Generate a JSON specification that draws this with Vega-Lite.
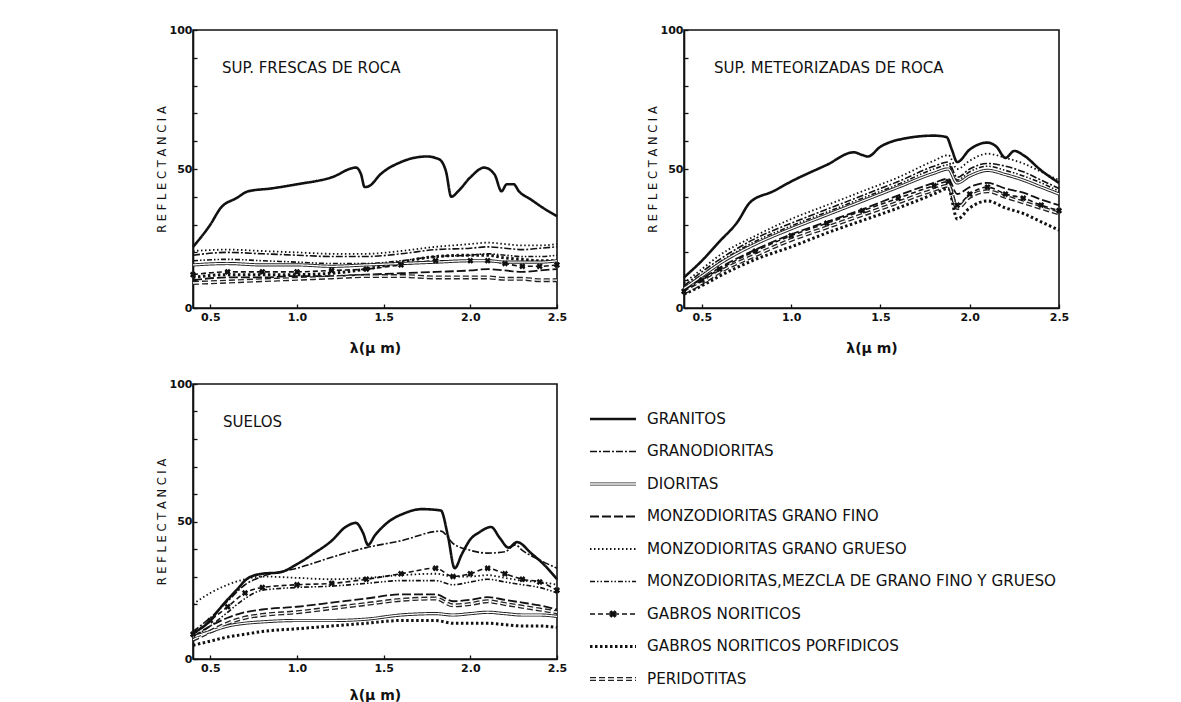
{
  "$schema": "https://vega.github.io/schema/vega-lite/v6.json",
  "padding": {"left": 155, "top": 23, "right": 5, "bottom": 0},
  "background": "white",
  "config": {
    "font": "DejaVu Sans",
    "view": {"stroke": "#111", "strokeWidth": 1.6},
    "title": {"anchor": "start", "frame": "group", "offset": -52, "fontSize": 15, "fontWeight": "normal", "font": "DejaVu Sans", "color": "#111"},
    "axis": {"domainColor": "#111", "domainWidth": 1.6, "tickColor": "#111", "tickWidth": 1.3, "labelColor": "#111", "titleColor": "#111", "labelFont": "DejaVu Sans", "labelFontSize": 11, "labelFontWeight": "bold", "titleFont": "DejaVu Sans", "titleFontSize": 11.5, "titleFontWeight": "normal", "grid": false, "labelOverlap": false}
  },
  "datasets": {
    "d": [
      {"p":1,"s":"GR","x":0.4,"y":22},{"p":1,"s":"GR","x":0.5,"y":30},{"p":1,"s":"GR","x":0.56,"y":36},{"p":1,"s":"GR","x":0.65,"y":39.5},{"p":1,"s":"GR","x":0.72,"y":42},{"p":1,"s":"GR","x":0.85,"y":43},{"p":1,"s":"GR","x":1.0,"y":44.5},{"p":1,"s":"GR","x":1.2,"y":47},{"p":1,"s":"GR","x":1.34,"y":50.5},{"p":1,"s":"GR","x":1.37,"y":48},{"p":1,"s":"GR","x":1.39,"y":43.5},{"p":1,"s":"GR","x":1.42,"y":44},{"p":1,"s":"GR","x":1.48,"y":48},{"p":1,"s":"GR","x":1.6,"y":52.5},{"p":1,"s":"GR","x":1.75,"y":54.5},{"p":1,"s":"GR","x":1.82,"y":53.5},{"p":1,"s":"GR","x":1.86,"y":49},{"p":1,"s":"GR","x":1.89,"y":40},{"p":1,"s":"GR","x":1.93,"y":42},{"p":1,"s":"GR","x":2.0,"y":47},{"p":1,"s":"GR","x":2.08,"y":50.5},{"p":1,"s":"GR","x":2.14,"y":48},{"p":1,"s":"GR","x":2.18,"y":42},{"p":1,"s":"GR","x":2.21,"y":44.5},{"p":1,"s":"GR","x":2.25,"y":44.5},{"p":1,"s":"GR","x":2.28,"y":42},{"p":1,"s":"GR","x":2.35,"y":39},{"p":1,"s":"GR","x":2.42,"y":36},{"p":1,"s":"GR","x":2.5,"y":33},
      {"p":1,"s":"GD","x":0.4,"y":19},{"p":1,"s":"GD","x":0.6,"y":20},{"p":1,"s":"GD","x":0.8,"y":19.5},{"p":1,"s":"GD","x":1.0,"y":19},{"p":1,"s":"GD","x":1.2,"y":18.5},{"p":1,"s":"GD","x":1.4,"y":18.5},{"p":1,"s":"GD","x":1.6,"y":19.5},{"p":1,"s":"GD","x":1.8,"y":21},{"p":1,"s":"GD","x":2.0,"y":21.5},{"p":1,"s":"GD","x":2.1,"y":22},{"p":1,"s":"GD","x":2.2,"y":21.5},{"p":1,"s":"GD","x":2.3,"y":21},{"p":1,"s":"GD","x":2.4,"y":21.5},{"p":1,"s":"GD","x":2.5,"y":22},
      {"p":1,"s":"MG","x":0.4,"y":20.5},{"p":1,"s":"MG","x":0.6,"y":21},{"p":1,"s":"MG","x":0.8,"y":20.5},{"p":1,"s":"MG","x":1.0,"y":20},{"p":1,"s":"MG","x":1.2,"y":19.5},{"p":1,"s":"MG","x":1.4,"y":19.5},{"p":1,"s":"MG","x":1.6,"y":20.5},{"p":1,"s":"MG","x":1.8,"y":22},{"p":1,"s":"MG","x":2.0,"y":23},{"p":1,"s":"MG","x":2.1,"y":23.5},{"p":1,"s":"MG","x":2.2,"y":23},{"p":1,"s":"MG","x":2.3,"y":22.5},{"p":1,"s":"MG","x":2.4,"y":22.5},{"p":1,"s":"MG","x":2.5,"y":23},
      {"p":1,"s":"MM","x":0.4,"y":17},{"p":1,"s":"MM","x":0.6,"y":17.5},{"p":1,"s":"MM","x":0.8,"y":17},{"p":1,"s":"MM","x":1.0,"y":16.5},{"p":1,"s":"MM","x":1.2,"y":16},{"p":1,"s":"MM","x":1.4,"y":16},{"p":1,"s":"MM","x":1.6,"y":17},{"p":1,"s":"MM","x":1.8,"y":18.5},{"p":1,"s":"MM","x":2.0,"y":19},{"p":1,"s":"MM","x":2.1,"y":19.5},{"p":1,"s":"MM","x":2.2,"y":19},{"p":1,"s":"MM","x":2.3,"y":18.5},{"p":1,"s":"MM","x":2.4,"y":18.5},{"p":1,"s":"MM","x":2.5,"y":19},
      {"p":1,"s":"DI","x":0.4,"y":15.5},{"p":1,"s":"DI","x":0.6,"y":16},{"p":1,"s":"DI","x":0.8,"y":15.5},{"p":1,"s":"DI","x":1.0,"y":15.5},{"p":1,"s":"DI","x":1.2,"y":15},{"p":1,"s":"DI","x":1.4,"y":15.5},{"p":1,"s":"DI","x":1.6,"y":16},{"p":1,"s":"DI","x":1.8,"y":16.5},{"p":1,"s":"DI","x":2.0,"y":17},{"p":1,"s":"DI","x":2.1,"y":17},{"p":1,"s":"DI","x":2.2,"y":16.5},{"p":1,"s":"DI","x":2.3,"y":16.5},{"p":1,"s":"DI","x":2.4,"y":16.5},{"p":1,"s":"DI","x":2.5,"y":17},
      {"p":1,"s":"GN","x":0.4,"y":12},{"p":1,"s":"GN","x":0.6,"y":13},{"p":1,"s":"GN","x":0.8,"y":13},{"p":1,"s":"GN","x":1.0,"y":13},{"p":1,"s":"GN","x":1.2,"y":13.5},{"p":1,"s":"GN","x":1.4,"y":14},{"p":1,"s":"GN","x":1.6,"y":15.5},{"p":1,"s":"GN","x":1.8,"y":17},{"p":1,"s":"GN","x":2.0,"y":17},{"p":1,"s":"GN","x":2.1,"y":17},{"p":1,"s":"GN","x":2.2,"y":16},{"p":1,"s":"GN","x":2.3,"y":15},{"p":1,"s":"GN","x":2.4,"y":15},{"p":1,"s":"GN","x":2.5,"y":15.5},
      {"p":1,"s":"GP","x":0.4,"y":11},{"p":1,"s":"GP","x":0.6,"y":12},{"p":1,"s":"GP","x":0.8,"y":12},{"p":1,"s":"GP","x":1.0,"y":12},{"p":1,"s":"GP","x":1.2,"y":12.5},{"p":1,"s":"GP","x":1.4,"y":14},{"p":1,"s":"GP","x":1.6,"y":16.5},{"p":1,"s":"GP","x":1.8,"y":18.5},{"p":1,"s":"GP","x":2.0,"y":19},{"p":1,"s":"GP","x":2.1,"y":19},{"p":1,"s":"GP","x":2.2,"y":18},{"p":1,"s":"GP","x":2.3,"y":17.5},{"p":1,"s":"GP","x":2.4,"y":17},{"p":1,"s":"GP","x":2.5,"y":17},
      {"p":1,"s":"MF","x":0.4,"y":10},{"p":1,"s":"MF","x":0.6,"y":11},{"p":1,"s":"MF","x":0.8,"y":11},{"p":1,"s":"MF","x":1.0,"y":11.5},{"p":1,"s":"MF","x":1.2,"y":11.5},{"p":1,"s":"MF","x":1.4,"y":12},{"p":1,"s":"MF","x":1.6,"y":12.5},{"p":1,"s":"MF","x":1.8,"y":13},{"p":1,"s":"MF","x":2.0,"y":13.5},{"p":1,"s":"MF","x":2.1,"y":14},{"p":1,"s":"MF","x":2.2,"y":13.5},{"p":1,"s":"MF","x":2.3,"y":13},{"p":1,"s":"MF","x":2.4,"y":13.5},{"p":1,"s":"MF","x":2.5,"y":14},
      {"p":1,"s":"PE","x":0.4,"y":9},{"p":1,"s":"PE","x":0.6,"y":9.5},{"p":1,"s":"PE","x":0.8,"y":10},{"p":1,"s":"PE","x":1.0,"y":10.5},{"p":1,"s":"PE","x":1.2,"y":11},{"p":1,"s":"PE","x":1.4,"y":11.5},{"p":1,"s":"PE","x":1.6,"y":11.5},{"p":1,"s":"PE","x":1.8,"y":11},{"p":1,"s":"PE","x":2.0,"y":11},{"p":1,"s":"PE","x":2.1,"y":11},{"p":1,"s":"PE","x":2.2,"y":10.5},{"p":1,"s":"PE","x":2.3,"y":10.5},{"p":1,"s":"PE","x":2.4,"y":10},{"p":1,"s":"PE","x":2.5,"y":10},

      {"p":2,"s":"GR","x":0.4,"y":11},{"p":2,"s":"GR","x":0.5,"y":17},{"p":2,"s":"GR","x":0.6,"y":24},{"p":2,"s":"GR","x":0.7,"y":31},{"p":2,"s":"GR","x":0.77,"y":38},{"p":2,"s":"GR","x":0.9,"y":42},{"p":2,"s":"GR","x":1.0,"y":45.5},{"p":2,"s":"GR","x":1.2,"y":51.5},{"p":2,"s":"GR","x":1.35,"y":56},{"p":2,"s":"GR","x":1.4,"y":55},{"p":2,"s":"GR","x":1.43,"y":54.5},{"p":2,"s":"GR","x":1.5,"y":58},{"p":2,"s":"GR","x":1.6,"y":60.5},{"p":2,"s":"GR","x":1.8,"y":62},{"p":2,"s":"GR","x":1.87,"y":61.5},{"p":2,"s":"GR","x":1.9,"y":57},{"p":2,"s":"GR","x":1.93,"y":52.5},{"p":2,"s":"GR","x":2.0,"y":57},{"p":2,"s":"GR","x":2.1,"y":59.5},{"p":2,"s":"GR","x":2.15,"y":58},{"p":2,"s":"GR","x":2.2,"y":54},{"p":2,"s":"GR","x":2.25,"y":56.5},{"p":2,"s":"GR","x":2.3,"y":55},{"p":2,"s":"GR","x":2.4,"y":49.5},{"p":2,"s":"GR","x":2.5,"y":45},
      {"p":2,"s":"MG","x":0.4,"y":9},{"p":2,"s":"MG","x":0.5,"y":14},{"p":2,"s":"MG","x":0.6,"y":19},{"p":2,"s":"MG","x":0.8,"y":26},{"p":2,"s":"MG","x":1.0,"y":32},{"p":2,"s":"MG","x":1.2,"y":37},{"p":2,"s":"MG","x":1.4,"y":42},{"p":2,"s":"MG","x":1.6,"y":47},{"p":2,"s":"MG","x":1.8,"y":53},{"p":2,"s":"MG","x":1.88,"y":55},{"p":2,"s":"MG","x":1.93,"y":50},{"p":2,"s":"MG","x":2.0,"y":53},{"p":2,"s":"MG","x":2.1,"y":55.5},{"p":2,"s":"MG","x":2.2,"y":54},{"p":2,"s":"MG","x":2.3,"y":52},{"p":2,"s":"MG","x":2.4,"y":49},{"p":2,"s":"MG","x":2.5,"y":46},
      {"p":2,"s":"GD","x":0.4,"y":8},{"p":2,"s":"GD","x":0.5,"y":13},{"p":2,"s":"GD","x":0.6,"y":17.5},{"p":2,"s":"GD","x":0.8,"y":25},{"p":2,"s":"GD","x":1.0,"y":30.5},{"p":2,"s":"GD","x":1.2,"y":35.5},{"p":2,"s":"GD","x":1.4,"y":40.5},{"p":2,"s":"GD","x":1.6,"y":45.5},{"p":2,"s":"GD","x":1.8,"y":51},{"p":2,"s":"GD","x":1.88,"y":52.5},{"p":2,"s":"GD","x":1.93,"y":47},{"p":2,"s":"GD","x":2.0,"y":50},{"p":2,"s":"GD","x":2.1,"y":52},{"p":2,"s":"GD","x":2.2,"y":51},{"p":2,"s":"GD","x":2.3,"y":49},{"p":2,"s":"GD","x":2.4,"y":46},{"p":2,"s":"GD","x":2.5,"y":43},
      {"p":2,"s":"MM","x":0.4,"y":7.5},{"p":2,"s":"MM","x":0.5,"y":12},{"p":2,"s":"MM","x":0.6,"y":16.5},{"p":2,"s":"MM","x":0.8,"y":24},{"p":2,"s":"MM","x":1.0,"y":29.5},{"p":2,"s":"MM","x":1.2,"y":34.5},{"p":2,"s":"MM","x":1.4,"y":39.5},{"p":2,"s":"MM","x":1.6,"y":44.5},{"p":2,"s":"MM","x":1.8,"y":50},{"p":2,"s":"MM","x":1.88,"y":51.5},{"p":2,"s":"MM","x":1.93,"y":46},{"p":2,"s":"MM","x":2.0,"y":49},{"p":2,"s":"MM","x":2.1,"y":51},{"p":2,"s":"MM","x":2.2,"y":49.5},{"p":2,"s":"MM","x":2.3,"y":47.5},{"p":2,"s":"MM","x":2.4,"y":45},{"p":2,"s":"MM","x":2.5,"y":42},
      {"p":2,"s":"DI","x":0.4,"y":7},{"p":2,"s":"DI","x":0.5,"y":11.5},{"p":2,"s":"DI","x":0.6,"y":16},{"p":2,"s":"DI","x":0.8,"y":23},{"p":2,"s":"DI","x":1.0,"y":28.5},{"p":2,"s":"DI","x":1.2,"y":33.5},{"p":2,"s":"DI","x":1.4,"y":38.5},{"p":2,"s":"DI","x":1.6,"y":43.5},{"p":2,"s":"DI","x":1.8,"y":48.5},{"p":2,"s":"DI","x":1.88,"y":50},{"p":2,"s":"DI","x":1.93,"y":45},{"p":2,"s":"DI","x":2.0,"y":47.5},{"p":2,"s":"DI","x":2.1,"y":49.5},{"p":2,"s":"DI","x":2.2,"y":48},{"p":2,"s":"DI","x":2.3,"y":46},{"p":2,"s":"DI","x":2.4,"y":43.5},{"p":2,"s":"DI","x":2.5,"y":41},
      {"p":2,"s":"MF","x":0.4,"y":6.5},{"p":2,"s":"MF","x":0.5,"y":10.5},{"p":2,"s":"MF","x":0.6,"y":14.5},{"p":2,"s":"MF","x":0.8,"y":21},{"p":2,"s":"MF","x":1.0,"y":26.5},{"p":2,"s":"MF","x":1.2,"y":31},{"p":2,"s":"MF","x":1.4,"y":35.5},{"p":2,"s":"MF","x":1.6,"y":40.5},{"p":2,"s":"MF","x":1.8,"y":45},{"p":2,"s":"MF","x":1.88,"y":46.5},{"p":2,"s":"MF","x":1.93,"y":41},{"p":2,"s":"MF","x":2.0,"y":43.5},{"p":2,"s":"MF","x":2.1,"y":45},{"p":2,"s":"MF","x":2.2,"y":43},{"p":2,"s":"MF","x":2.3,"y":41.5},{"p":2,"s":"MF","x":2.4,"y":39},{"p":2,"s":"MF","x":2.5,"y":37},
      {"p":2,"s":"GN","x":0.4,"y":6},{"p":2,"s":"GN","x":0.5,"y":10},{"p":2,"s":"GN","x":0.6,"y":14},{"p":2,"s":"GN","x":0.8,"y":20.5},{"p":2,"s":"GN","x":1.0,"y":26},{"p":2,"s":"GN","x":1.2,"y":30.5},{"p":2,"s":"GN","x":1.4,"y":35},{"p":2,"s":"GN","x":1.6,"y":39.5},{"p":2,"s":"GN","x":1.8,"y":44},{"p":2,"s":"GN","x":1.88,"y":45.5},{"p":2,"s":"GN","x":1.93,"y":37},{"p":2,"s":"GN","x":2.0,"y":41},{"p":2,"s":"GN","x":2.1,"y":43.5},{"p":2,"s":"GN","x":2.2,"y":41},{"p":2,"s":"GN","x":2.3,"y":39.5},{"p":2,"s":"GN","x":2.4,"y":37},{"p":2,"s":"GN","x":2.5,"y":35},
      {"p":2,"s":"PE","x":0.4,"y":5.5},{"p":2,"s":"PE","x":0.5,"y":9},{"p":2,"s":"PE","x":0.6,"y":13},{"p":2,"s":"PE","x":0.8,"y":19},{"p":2,"s":"PE","x":1.0,"y":24.5},{"p":2,"s":"PE","x":1.2,"y":29},{"p":2,"s":"PE","x":1.4,"y":33.5},{"p":2,"s":"PE","x":1.6,"y":38},{"p":2,"s":"PE","x":1.8,"y":42.5},{"p":2,"s":"PE","x":1.88,"y":44},{"p":2,"s":"PE","x":1.93,"y":36},{"p":2,"s":"PE","x":2.0,"y":40},{"p":2,"s":"PE","x":2.1,"y":42},{"p":2,"s":"PE","x":2.2,"y":40},{"p":2,"s":"PE","x":2.3,"y":38},{"p":2,"s":"PE","x":2.4,"y":36},{"p":2,"s":"PE","x":2.5,"y":34},
      {"p":2,"s":"GP","x":0.4,"y":5},{"p":2,"s":"GP","x":0.5,"y":8},{"p":2,"s":"GP","x":0.6,"y":11.5},{"p":2,"s":"GP","x":0.8,"y":17.5},{"p":2,"s":"GP","x":1.0,"y":22},{"p":2,"s":"GP","x":1.2,"y":27},{"p":2,"s":"GP","x":1.4,"y":31.5},{"p":2,"s":"GP","x":1.6,"y":36},{"p":2,"s":"GP","x":1.8,"y":41},{"p":2,"s":"GP","x":1.88,"y":43},{"p":2,"s":"GP","x":1.93,"y":32},{"p":2,"s":"GP","x":2.0,"y":36},{"p":2,"s":"GP","x":2.1,"y":38.5},{"p":2,"s":"GP","x":2.2,"y":36},{"p":2,"s":"GP","x":2.3,"y":34},{"p":2,"s":"GP","x":2.4,"y":31},{"p":2,"s":"GP","x":2.5,"y":28},

      {"p":3,"s":"GR","x":0.4,"y":9.5},{"p":3,"s":"GR","x":0.5,"y":14},{"p":3,"s":"GR","x":0.55,"y":18},{"p":3,"s":"GR","x":0.65,"y":25},{"p":3,"s":"GR","x":0.72,"y":29.5},{"p":3,"s":"GR","x":0.8,"y":31},{"p":3,"s":"GR","x":0.9,"y":31.5},{"p":3,"s":"GR","x":1.0,"y":34.5},{"p":3,"s":"GR","x":1.1,"y":38.5},{"p":3,"s":"GR","x":1.2,"y":43},{"p":3,"s":"GR","x":1.28,"y":48},{"p":3,"s":"GR","x":1.34,"y":49.5},{"p":3,"s":"GR","x":1.38,"y":46},{"p":3,"s":"GR","x":1.41,"y":41.5},{"p":3,"s":"GR","x":1.45,"y":45},{"p":3,"s":"GR","x":1.52,"y":49.5},{"p":3,"s":"GR","x":1.62,"y":53},{"p":3,"s":"GR","x":1.72,"y":54.5},{"p":3,"s":"GR","x":1.83,"y":54},{"p":3,"s":"GR","x":1.87,"y":45},{"p":3,"s":"GR","x":1.91,"y":33},{"p":3,"s":"GR","x":1.95,"y":38},{"p":3,"s":"GR","x":2.0,"y":43.5},{"p":3,"s":"GR","x":2.05,"y":46},{"p":3,"s":"GR","x":2.12,"y":48},{"p":3,"s":"GR","x":2.17,"y":44},{"p":3,"s":"GR","x":2.22,"y":40.5},{"p":3,"s":"GR","x":2.27,"y":42.5},{"p":3,"s":"GR","x":2.35,"y":38.5},{"p":3,"s":"GR","x":2.43,"y":34},{"p":3,"s":"GR","x":2.5,"y":29},
      {"p":3,"s":"GD","x":0.4,"y":10},{"p":3,"s":"GD","x":0.5,"y":15},{"p":3,"s":"GD","x":0.6,"y":21},{"p":3,"s":"GD","x":0.7,"y":27},{"p":3,"s":"GD","x":0.8,"y":30},{"p":3,"s":"GD","x":1.0,"y":33},{"p":3,"s":"GD","x":1.2,"y":37},{"p":3,"s":"GD","x":1.4,"y":40.5},{"p":3,"s":"GD","x":1.6,"y":43},{"p":3,"s":"GD","x":1.83,"y":46.5},{"p":3,"s":"GD","x":1.9,"y":42},{"p":3,"s":"GD","x":2.0,"y":39.5},{"p":3,"s":"GD","x":2.1,"y":38.5},{"p":3,"s":"GD","x":2.2,"y":39},{"p":3,"s":"GD","x":2.26,"y":41.5},{"p":3,"s":"GD","x":2.3,"y":39.5},{"p":3,"s":"GD","x":2.4,"y":36},{"p":3,"s":"GD","x":2.5,"y":33},
      {"p":3,"s":"MG","x":0.4,"y":20},{"p":3,"s":"MG","x":0.5,"y":24},{"p":3,"s":"MG","x":0.6,"y":27},{"p":3,"s":"MG","x":0.7,"y":29},{"p":3,"s":"MG","x":0.8,"y":30},{"p":3,"s":"MG","x":1.0,"y":29.5},{"p":3,"s":"MG","x":1.2,"y":29},{"p":3,"s":"MG","x":1.4,"y":29.5},{"p":3,"s":"MG","x":1.6,"y":30.5},{"p":3,"s":"MG","x":1.8,"y":31},{"p":3,"s":"MG","x":1.9,"y":30},{"p":3,"s":"MG","x":2.0,"y":30},{"p":3,"s":"MG","x":2.1,"y":30.5},{"p":3,"s":"MG","x":2.2,"y":29.5},{"p":3,"s":"MG","x":2.3,"y":28.5},{"p":3,"s":"MG","x":2.4,"y":28},{"p":3,"s":"MG","x":2.5,"y":27},
      {"p":3,"s":"GN","x":0.4,"y":9},{"p":3,"s":"GN","x":0.5,"y":14},{"p":3,"s":"GN","x":0.6,"y":19},{"p":3,"s":"GN","x":0.7,"y":24},{"p":3,"s":"GN","x":0.8,"y":26},{"p":3,"s":"GN","x":1.0,"y":27},{"p":3,"s":"GN","x":1.2,"y":27.5},{"p":3,"s":"GN","x":1.4,"y":29},{"p":3,"s":"GN","x":1.6,"y":31},{"p":3,"s":"GN","x":1.8,"y":33},{"p":3,"s":"GN","x":1.9,"y":30},{"p":3,"s":"GN","x":2.0,"y":31},{"p":3,"s":"GN","x":2.1,"y":33},{"p":3,"s":"GN","x":2.2,"y":31},{"p":3,"s":"GN","x":2.3,"y":29},{"p":3,"s":"GN","x":2.4,"y":28},{"p":3,"s":"GN","x":2.5,"y":25},
      {"p":3,"s":"MM","x":0.4,"y":8},{"p":3,"s":"MM","x":0.5,"y":12},{"p":3,"s":"MM","x":0.6,"y":17},{"p":3,"s":"MM","x":0.7,"y":22},{"p":3,"s":"MM","x":0.8,"y":25},{"p":3,"s":"MM","x":1.0,"y":26},{"p":3,"s":"MM","x":1.2,"y":26.5},{"p":3,"s":"MM","x":1.4,"y":27.5},{"p":3,"s":"MM","x":1.6,"y":28.5},{"p":3,"s":"MM","x":1.8,"y":28.5},{"p":3,"s":"MM","x":1.9,"y":27},{"p":3,"s":"MM","x":2.0,"y":28},{"p":3,"s":"MM","x":2.1,"y":29},{"p":3,"s":"MM","x":2.2,"y":28},{"p":3,"s":"MM","x":2.3,"y":27},{"p":3,"s":"MM","x":2.4,"y":26},{"p":3,"s":"MM","x":2.5,"y":24},
      {"p":3,"s":"MF","x":0.4,"y":8},{"p":3,"s":"MF","x":0.5,"y":12},{"p":3,"s":"MF","x":0.6,"y":15},{"p":3,"s":"MF","x":0.7,"y":17},{"p":3,"s":"MF","x":0.8,"y":18},{"p":3,"s":"MF","x":1.0,"y":19},{"p":3,"s":"MF","x":1.2,"y":20.5},{"p":3,"s":"MF","x":1.4,"y":22},{"p":3,"s":"MF","x":1.6,"y":23.5},{"p":3,"s":"MF","x":1.8,"y":23.5},{"p":3,"s":"MF","x":1.9,"y":21},{"p":3,"s":"MF","x":2.0,"y":21.5},{"p":3,"s":"MF","x":2.1,"y":22.5},{"p":3,"s":"MF","x":2.2,"y":21.5},{"p":3,"s":"MF","x":2.3,"y":20.5},{"p":3,"s":"MF","x":2.4,"y":19.5},{"p":3,"s":"MF","x":2.5,"y":18},
      {"p":3,"s":"PE","x":0.4,"y":7},{"p":3,"s":"PE","x":0.5,"y":10},{"p":3,"s":"PE","x":0.6,"y":13},{"p":3,"s":"PE","x":0.7,"y":15},{"p":3,"s":"PE","x":0.8,"y":16},{"p":3,"s":"PE","x":1.0,"y":17},{"p":3,"s":"PE","x":1.2,"y":18.5},{"p":3,"s":"PE","x":1.4,"y":20},{"p":3,"s":"PE","x":1.6,"y":21.5},{"p":3,"s":"PE","x":1.8,"y":22},{"p":3,"s":"PE","x":1.9,"y":19.5},{"p":3,"s":"PE","x":2.0,"y":20},{"p":3,"s":"PE","x":2.1,"y":21},{"p":3,"s":"PE","x":2.2,"y":20},{"p":3,"s":"PE","x":2.3,"y":19},{"p":3,"s":"PE","x":2.4,"y":18},{"p":3,"s":"PE","x":2.5,"y":17},
      {"p":3,"s":"DI","x":0.4,"y":8},{"p":3,"s":"DI","x":0.5,"y":10},{"p":3,"s":"DI","x":0.6,"y":12},{"p":3,"s":"DI","x":0.7,"y":13},{"p":3,"s":"DI","x":0.8,"y":13.5},{"p":3,"s":"DI","x":1.0,"y":14},{"p":3,"s":"DI","x":1.2,"y":14},{"p":3,"s":"DI","x":1.4,"y":14.5},{"p":3,"s":"DI","x":1.6,"y":16},{"p":3,"s":"DI","x":1.8,"y":16.5},{"p":3,"s":"DI","x":1.9,"y":16},{"p":3,"s":"DI","x":2.0,"y":16.5},{"p":3,"s":"DI","x":2.1,"y":17},{"p":3,"s":"DI","x":2.2,"y":16.5},{"p":3,"s":"DI","x":2.3,"y":16},{"p":3,"s":"DI","x":2.4,"y":16},{"p":3,"s":"DI","x":2.5,"y":15.5},
      {"p":3,"s":"GP","x":0.4,"y":5},{"p":3,"s":"GP","x":0.5,"y":6.5},{"p":3,"s":"GP","x":0.6,"y":8},{"p":3,"s":"GP","x":0.7,"y":9},{"p":3,"s":"GP","x":0.8,"y":10},{"p":3,"s":"GP","x":1.0,"y":11},{"p":3,"s":"GP","x":1.2,"y":12},{"p":3,"s":"GP","x":1.4,"y":13},{"p":3,"s":"GP","x":1.6,"y":14},{"p":3,"s":"GP","x":1.8,"y":14},{"p":3,"s":"GP","x":1.9,"y":13},{"p":3,"s":"GP","x":2.0,"y":13},{"p":3,"s":"GP","x":2.1,"y":13},{"p":3,"s":"GP","x":2.2,"y":12.5},{"p":3,"s":"GP","x":2.3,"y":12},{"p":3,"s":"GP","x":2.4,"y":12},{"p":3,"s":"GP","x":2.5,"y":11.5}
    ],
    "leg": [
      {"s":"GR","k":0,"lab":"GRANITOS"},{"s":"GR","k":1,"lab":"GRANITOS"},
      {"s":"GD","k":0,"lab":"GRANODIORITAS"},{"s":"GD","k":1,"lab":"GRANODIORITAS"},
      {"s":"DI","k":0,"lab":"DIORITAS"},{"s":"DI","k":1,"lab":"DIORITAS"},
      {"s":"MF","k":0,"lab":"MONZODIORITAS  GRANO FINO"},{"s":"MF","k":1,"lab":"MONZODIORITAS  GRANO FINO"},
      {"s":"MG","k":0,"lab":"MONZODIORITAS  GRANO GRUESO"},{"s":"MG","k":1,"lab":"MONZODIORITAS  GRANO GRUESO"},
      {"s":"MM","k":0,"lab":"MONZODIORITAS,MEZCLA DE GRANO FINO Y GRUESO"},{"s":"MM","k":1,"lab":"MONZODIORITAS,MEZCLA DE GRANO FINO Y GRUESO"},
      {"s":"GN","k":0,"lab":"GABROS NORITICOS"},{"s":"GN","k":0.5,"lab":"GABROS NORITICOS"},{"s":"GN","k":1,"lab":"GABROS NORITICOS"},
      {"s":"GP","k":0,"lab":"GABROS NORITICOS PORFIDICOS"},{"s":"GP","k":1,"lab":"GABROS NORITICOS PORFIDICOS"},
      {"s":"PE","k":0,"lab":"PERIDOTITAS"},{"s":"PE","k":1,"lab":"PERIDOTITAS"}
    ]
  },
  "data": {"name": "d"},
  "vconcat": [
    {
      "hconcat": [
        {
          "width": 364, "height": 278,
          "title": {"text": "SUP. FRESCAS DE ROCA", "dx": 29},
          "transform": [{"filter": "datum.p == 1"}],
          "encoding": {
            "x": {"field": "x", "type": "quantitative", "scale": {"domain": [0.4, 2.5], "nice": false, "zero": false}, "axis": {"values": [0.5, 1, 1.5, 2, 2.5], "format": ".1f", "title": "λ(μ m)", "labelFlush": false, "tickSize": -4, "labelPadding": 7, "titlePadding": 19, "titleFontWeight": "bold", "titleFontSize": 14}},
            "y": {"field": "y", "type": "quantitative", "scale": {"domain": [0, 100], "nice": false}, "axis": {"values": [0,10,20,30,40,50,60,70,80,90,100], "labelOverlap": false, "labelExpr": "datum.value == 0 || datum.value == 50 || datum.value == 100 ? datum.label : ''", "title": "R E F L E C T A N C I A", "tickSize": -4, "labelPadding": 5, "titlePadding": 2}}
          },
          "layer": [
            {"mark": {"type": "line", "interpolate": "monotone"},
             "encoding": {
               "strokeDash": {"field": "s", "type": "nominal", "legend": null, "scale": {"domain": ["GR","GD","DI","MF","MG","MM","GN","GP","PE"], "range": [[1,0],[7,2,2,2],[1,0],[9,3],[1.5,2.5],[5,2,1.5,2,1.5,2],[5,3],[2.5,2.5],[6,3]]}},
               "strokeWidth": {"field": "s", "type": "nominal", "legend": null, "scale": {"type": "ordinal", "domain": ["GR","GD","DI","MF","MG","MM","GN","GP","PE"], "range": [2.6,1.6,3.2,1.8,1.8,1.6,1.6,3,4]}},
               "color": {"field": "s", "type": "nominal", "legend": null, "scale": {"domain": ["GR","GD","DI","MF","MG","MM","GN","GP","PE"], "range": ["#111","#111","#222","#111","#111","#111","#111","#111","#222"]}}
             }},
            {"transform": [{"filter": "datum.s == 'DI' || datum.s == 'PE'"}], "mark": {"type": "line", "interpolate": "monotone", "color": "white", "strokeWidth": 1.3},
             "encoding": {"strokeDash": {"field": "s", "type": "nominal", "legend": null}}},
            {"transform": [{"filter": "datum.s == 'GN'"}], "mark": {"type": "point", "shape": "cross", "angle": 45, "filled": true, "size": 40, "color": "#111", "opacity": 1}}
          ]
        },
        {
          "width": 375, "height": 278,
          "title": {"text": "SUP. METEORIZADAS DE ROCA", "dx": 30},
          "transform": [{"filter": "datum.p == 2"}],
          "encoding": {
            "x": {"field": "x", "type": "quantitative", "scale": {"domain": [0.4, 2.5], "nice": false, "zero": false}, "axis": {"values": [0.5, 1, 1.5, 2, 2.5], "format": ".1f", "title": "λ(μ m)", "labelFlush": false, "tickSize": -4, "labelPadding": 7, "titlePadding": 19, "titleFontWeight": "bold", "titleFontSize": 14}},
            "y": {"field": "y", "type": "quantitative", "scale": {"domain": [0, 100], "nice": false}, "axis": {"values": [0,10,20,30,40,50,60,70,80,90,100], "labelOverlap": false, "labelExpr": "datum.value == 0 || datum.value == 50 || datum.value == 100 ? datum.label : ''", "title": "R E F L E C T A N C I A", "tickSize": -4, "labelPadding": 5, "titlePadding": 2}}
          },
          "layer": [
            {"mark": {"type": "line", "interpolate": "monotone"},
             "encoding": {
               "strokeDash": {"field": "s", "type": "nominal", "legend": null, "scale": {"domain": ["GR","GD","DI","MF","MG","MM","GN","GP","PE"], "range": [[1,0],[7,2,2,2],[1,0],[9,3],[1.5,2.5],[5,2,1.5,2,1.5,2],[5,3],[2.5,2.5],[6,3]]}},
               "strokeWidth": {"field": "s", "type": "nominal", "legend": null, "scale": {"type": "ordinal", "domain": ["GR","GD","DI","MF","MG","MM","GN","GP","PE"], "range": [2.4,1.6,3.2,1.8,1.8,1.6,1.6,3,4]}},
               "color": {"field": "s", "type": "nominal", "legend": null, "scale": {"domain": ["GR","GD","DI","MF","MG","MM","GN","GP","PE"], "range": ["#111","#111","#222","#111","#111","#111","#111","#111","#222"]}}
             }},
            {"transform": [{"filter": "datum.s == 'DI' || datum.s == 'PE'"}], "mark": {"type": "line", "interpolate": "monotone", "color": "white", "strokeWidth": 1.3},
             "encoding": {"strokeDash": {"field": "s", "type": "nominal", "legend": null}}},
            {"transform": [{"filter": "datum.s == 'GN'"}], "mark": {"type": "point", "shape": "cross", "angle": 45, "filled": true, "size": 40, "color": "#111", "opacity": 1}}
          ]
        }
      ],
      "spacing": 78
    },
    {
      "hconcat": [
        {
          "width": 364, "height": 275,
          "title": {"text": "SUELOS", "dx": 30},
          "transform": [{"filter": "datum.p == 3"}],
          "encoding": {
            "x": {"field": "x", "type": "quantitative", "scale": {"domain": [0.4, 2.5], "nice": false, "zero": false}, "axis": {"values": [0.5, 1, 1.5, 2, 2.5], "format": ".1f", "title": "λ(μ m)", "labelFlush": false, "tickSize": -4, "labelPadding": 7, "titlePadding": 15, "titleFontWeight": "bold", "titleFontSize": 14}},
            "y": {"field": "y", "type": "quantitative", "scale": {"domain": [0, 100], "nice": false}, "axis": {"values": [0,10,20,30,40,50,60,70,80,90,100], "labelOverlap": false, "labelExpr": "datum.value == 0 || datum.value == 50 || datum.value == 100 ? datum.label : ''", "title": "R E F L E C T A N C I A", "tickSize": -4, "labelPadding": 5, "titlePadding": 2}}
          },
          "layer": [
            {"mark": {"type": "line", "interpolate": "monotone"},
             "encoding": {
               "strokeDash": {"field": "s", "type": "nominal", "legend": null, "scale": {"domain": ["GR","GD","DI","MF","MG","MM","GN","GP","PE"], "range": [[1,0],[7,2,2,2],[1,0],[9,3],[1.5,2.5],[5,2,1.5,2,1.5,2],[5,3],[2.5,2.5],[6,3]]}},
               "strokeWidth": {"field": "s", "type": "nominal", "legend": null, "scale": {"type": "ordinal", "domain": ["GR","GD","DI","MF","MG","MM","GN","GP","PE"], "range": [3,1.6,3.2,1.8,1.8,1.6,1.6,3,4]}},
               "color": {"field": "s", "type": "nominal", "legend": null, "scale": {"domain": ["GR","GD","DI","MF","MG","MM","GN","GP","PE"], "range": ["#111","#111","#222","#111","#111","#111","#111","#111","#222"]}}
             }},
            {"transform": [{"filter": "datum.s == 'DI' || datum.s == 'PE'"}], "mark": {"type": "line", "interpolate": "monotone", "color": "white", "strokeWidth": 1.3},
             "encoding": {"strokeDash": {"field": "s", "type": "nominal", "legend": null}}},
            {"transform": [{"filter": "datum.s == 'GN'"}], "mark": {"type": "point", "shape": "cross", "angle": 45, "filled": true, "size": 40, "color": "#111", "opacity": 1}}
          ]
        },
        {
          "width": 46, "height": 312,
          "data": {"name": "leg"},
          "view": {"stroke": null},
          "encoding": {
            "x": {"field": "k", "type": "quantitative", "scale": {"domain": [0, 1], "nice": false, "zero": false}, "axis": null},
            "y": {"field": "s", "type": "ordinal", "scale": {"type": "point", "domain": ["GR","GD","DI","MF","MG","MM","GN","GP","PE"], "padding": 0.8, "align": 0.673}, "axis": null}
          },
          "layer": [
            {"mark": {"type": "line"},
             "encoding": {
               "strokeDash": {"field": "s", "type": "nominal", "legend": null, "scale": {"domain": ["GR","GD","DI","MF","MG","MM","GN","GP","PE"], "range": [[1,0],[7,2,2,2],[1,0],[9,3],[1.5,2.5],[5,2,1.5,2,1.5,2],[5,3],[2.5,2.5],[6,3]]}},
               "strokeWidth": {"field": "s", "type": "nominal", "legend": null, "scale": {"type": "ordinal", "domain": ["GR","GD","DI","MF","MG","MM","GN","GP","PE"], "range": [1.8,1.6,3.2,1.8,1.8,1.6,1.6,3,4]}},
               "color": {"field": "s", "type": "nominal", "legend": null, "scale": {"domain": ["GR","GD","DI","MF","MG","MM","GN","GP","PE"], "range": ["#111","#111","#222","#111","#111","#111","#111","#111","#222"]}}
             }},
            {"transform": [{"filter": "datum.s == 'DI' || datum.s == 'PE'"}], "mark": {"type": "line", "color": "white", "strokeWidth": 1.3},
             "encoding": {"strokeDash": {"field": "s", "type": "nominal", "legend": null}}},
            {"transform": [{"filter": "datum.k == 0.5"}], "mark": {"type": "point", "shape": "cross", "angle": 45, "filled": true, "size": 60, "color": "#111", "opacity": 1}},
            {"transform": [{"filter": "datum.k == 1"}], "mark": {"type": "text", "align": "left", "baseline": "middle", "dx": 11, "fontSize": 15.2, "color": "#111"},
             "encoding": {"text": {"field": "lab"}}}
          ]
        }
      ],
      "spacing": 14
    }
  ],
  "spacing": 21
}
